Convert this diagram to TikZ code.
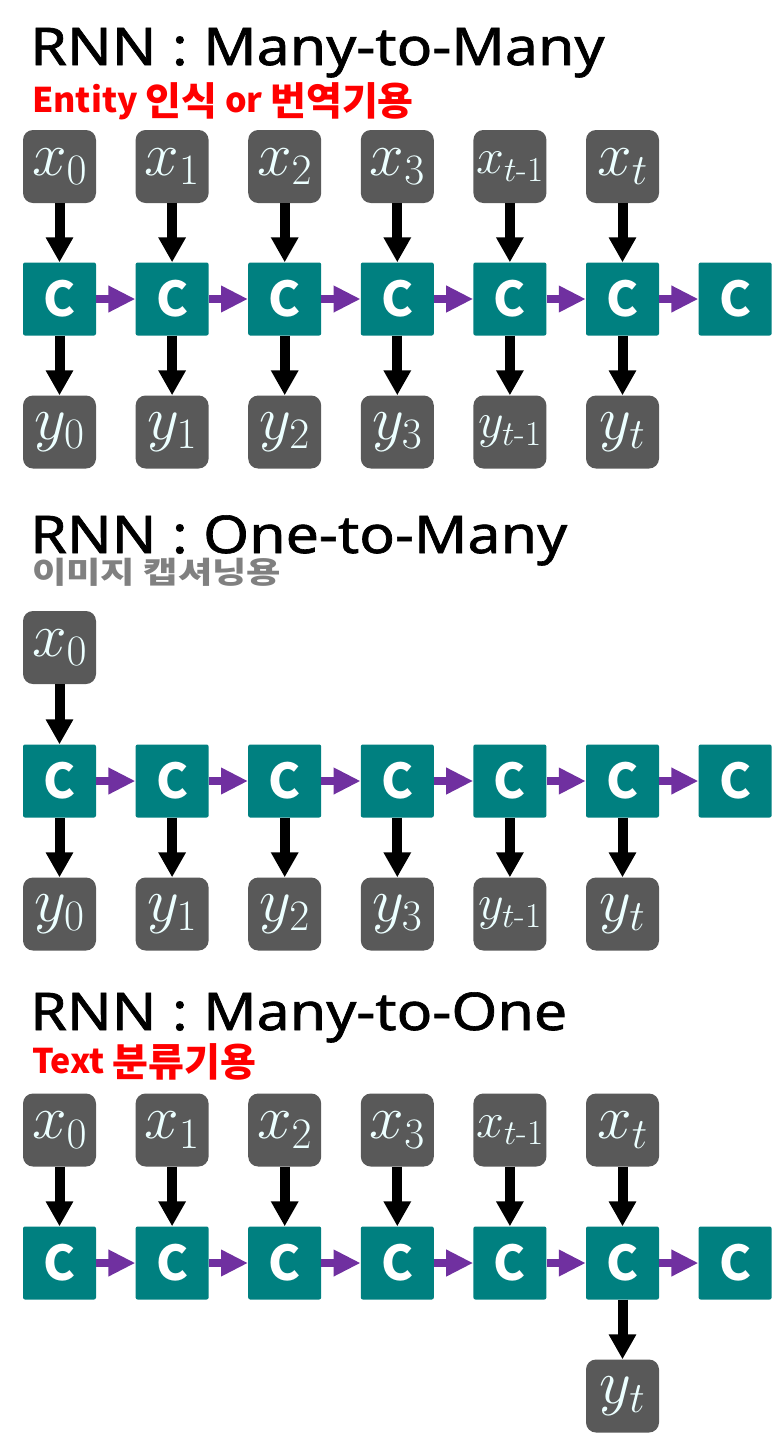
\RequirePackage{fix-cm}
\documentclass[tikz,border=0pt]{standalone}
\usepackage{amsmath}
\usepackage{fontspec}
\usetikzlibrary{arrows.meta}
\newfontfamily\kr{Noto Sans CJK KR}
\newfontfamily\lat{Noto Sans}[FakeBold=1.2]
\definecolor{boxgray}{RGB}{89,89,89}
\definecolor{tealc}{RGB}{0,128,128}
\definecolor{purp}{RGB}{112,48,160}
\definecolor{mathtxt}{RGB}{236,255,255}
\definecolor{subred}{RGB}{255,0,0}
\definecolor{subgray}{RGB}{128,128,128}
\newcommand\hg[1]{\raisebox{-3.5pt}{\fontsize{39}{39}\selectfont #1}}
\begin{document}
\begin{tikzpicture}[x=1pt,y=-1pt,
  inbox/.style={fill=boxgray, rounded corners=10pt, minimum width=73pt, minimum height=73pt, inner sep=0pt, text=mathtxt, font=\fontsize{62}{64}\selectfont},
  inboxs/.style={inbox, font=\fontsize{50}{52}\selectfont},
  cell/.style={fill=tealc, rounded corners=2pt, minimum width=73pt, minimum height=73pt, inner sep=0pt, text=white, font=\kr\bfseries\fontsize{48}{48}\selectfont},
  io/.style={line width=10pt, draw=black, -{Triangle[width=26pt,length=25pt]}},
  rec/.style={line width=8pt, draw=purp, -{Triangle[width=25pt,length=27pt]}},
  title/.style={anchor=base west, inner sep=0pt, font=\lat\fontsize{52}{52}\selectfont},
  subt/.style={anchor=base west, inner sep=0pt, font=\kr\bfseries\fontsize{34}{34}\selectfont},
]
\useasboundingbox (0,0) rectangle (781,1433);

% ---------- titles ----------
\node[title] (t1) at (30,65) {\scalebox{1.135}[1]{RNN : Many-to-Many}};
\node[subt, text=subred] (s1) at (32,112) {Entity \hg{인식} or \hg{번역기용}};
\node[title] (t2) at (30,553) {\scalebox{1.135}[1]{RNN : One-to-Many}};
\node[subt, text=subgray] (s2) at (32,583)
  {\scalebox{1.245}[1]{\fontsize{30}{30}\selectfont 이미지 캡셔닝용}};
\node[title] (t3) at (30,1030) {\scalebox{1.135}[1]{RNN : Many-to-One}};
\node[subt, text=subred] (s3) at (32,1073) {Text \hg{분류기용}};

% ---------- cells ----------
\foreach \s/\yc in {1/299, 2/781, 3/1263} {
  \foreach \i in {0,...,6}
    \node[cell] (c\s-\i) at ({59.5+112.6*\i},\yc) {C};
  \foreach \i [count=\j] in {0,...,5}
    \draw[rec] (c\s-\i) -- (c\s-\j);
}

% ---------- section 1 : many-to-many ----------
\foreach \i/\sb in {0/0,1/1,2/2,3/3,5/t} {
  \node[inbox] (x1-\i) at ({59.5+112.6*\i},166.5) {$x_{\sb}$};
  \node[inbox] (y1-\i) at ({59.5+112.6*\i},432) {$y_{\sb}$};
}
\node[inboxs] (x1-4) at ({59.5+112.6*4},166.5) {$x_{t\text{-}1}$};
\node[inboxs] (y1-4) at ({59.5+112.6*4},432) {$y_{t\text{-}1}$};
\foreach \i in {0,...,5} {
  \draw[io] (x1-\i) -- (c1-\i);
  \draw[io] (c1-\i) -- (y1-\i);
}

% ---------- section 2 : one-to-many ----------
\node[inbox] (x2-0) at (59.5,647.5) {$x_{0}$};
\foreach \i/\sb in {0/0,1/1,2/2,3/3,5/t}
  \node[inbox] (y2-\i) at ({59.5+112.6*\i},914) {$y_{\sb}$};
\node[inboxs] (y2-4) at ({59.5+112.6*4},914) {$y_{t\text{-}1}$};
\draw[io] (x2-0) -- (c2-0);
\foreach \i in {0,...,5}
  \draw[io] (c2-\i) -- (y2-\i);

% ---------- section 3 : many-to-one ----------
\foreach \i/\sb in {0/0,1/1,2/2,3/3,5/t}
  \node[inbox] (x3-\i) at ({59.5+112.6*\i},1130) {$x_{\sb}$};
\node[inboxs] (x3-4) at ({59.5+112.6*4},1130) {$x_{t\text{-}1}$};
\node[inbox] (y3-5) at ({59.5+112.6*5},1396) {$y_{t}$};
\foreach \i in {0,...,5}
  \draw[io] (x3-\i) -- (c3-\i);
\draw[io] (c3-5) -- (y3-5);
\end{tikzpicture}
\end{document}
